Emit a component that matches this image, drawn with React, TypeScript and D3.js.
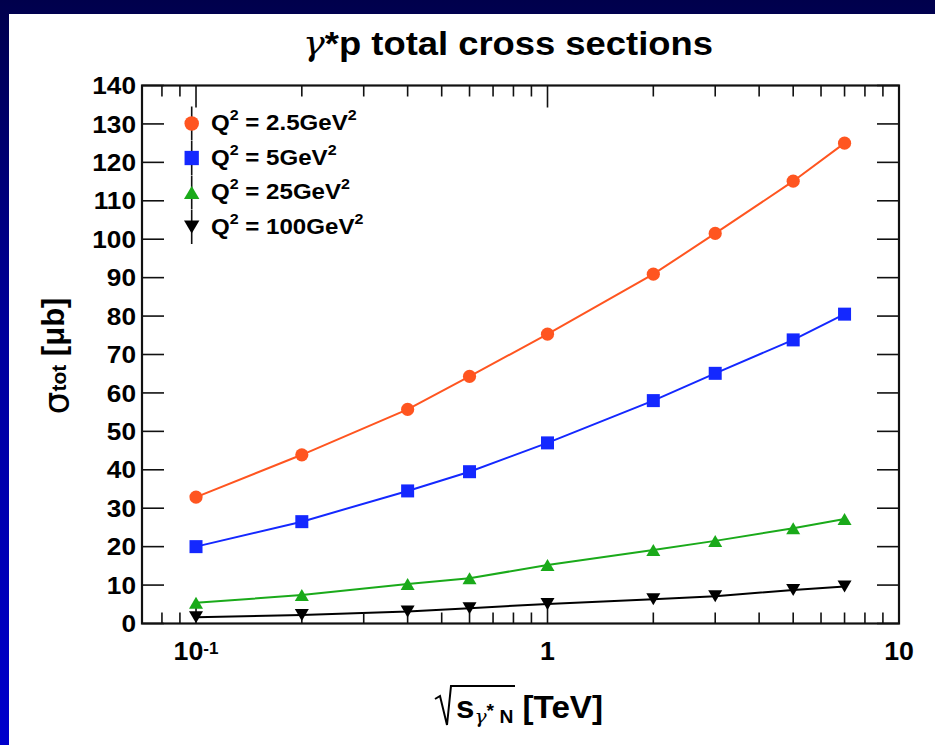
import React from "react";
import * as d3 from "d3";

// Centre-of-mass energies sqrt(s) [TeV]
const energies = [0.1, 0.2, 0.4, 0.6, 1, 2, 3, 5, 7];

// Total gamma*p cross sections [microbarn] for each photon virtuality
const sigmaQ2_2p5 = [32.9, 43.9, 55.7, 64.3, 75.3, 90.9, 101.5, 115.1, 125.0];
const sigmaQ2_5 = [20.0, 26.5, 34.5, 39.5, 47.0, 58.0, 65.1, 73.8, 80.5];
const sigmaQ2_25 = [5.4, 7.4, 10.3, 11.8, 15.2, 19.1, 21.5, 24.8, 27.2];
const sigmaQ2_100 = [1.6, 2.2, 3.1, 4.0, 5.1, 6.3, 7.1, 8.7, 9.6];

const legendQ2 = ["2.5", "5", "25", "100"];

// Axis ticks
const yTickValues = [0, 10, 20, 30, 40, 50, 60, 70, 80, 90, 100, 110, 120, 130, 140];
const yTickLabels = ["0", "10", "20", "30", "40", "50", "60", "70", "80", "90", "100", "110", "120", "130", "140"];
const xMajorValues = [0.1, 1, 10];
const xMajorBase = ["10", "1", "10"];
const xMajorExp = ["-1", "", ""];
const xMinorValues = [0.08, 0.09, 0.2, 0.3, 0.4, 0.5, 0.6, 0.7, 0.8, 0.9, 2, 3, 4, 5, 6, 7, 8, 9];

const FONT = "'Liberation Sans', Arial, Helvetica, sans-serif";
const GREEK = "'DejaVu Serif', 'Liberation Serif', serif";
const SX = 1.07;

type Series = { values: number[]; color: string; marker: string };
const series: Series[] = [
  { values: sigmaQ2_2p5, color: "#ff5520", marker: "circle" },
  { values: sigmaQ2_5, color: "#1428ff", marker: "square" },
  { values: sigmaQ2_25, color: "#1aaa1a", marker: "triangle" },
  { values: sigmaQ2_100, color: "#000000", marker: "invtriangle" },
];

function Marker({ kind, cx, cy, color, s = 1 }: { kind: string; cx: number; cy: number; color: string; s?: number }) {
  if (kind === "circle") return <circle cx={cx} cy={cy} r={6.6 * s} fill={color} />;
  if (kind === "square") {
    const h = 6.5 * s;
    return <rect x={cx - h} y={cy - h} width={2 * h} height={2 * h} fill={color} />;
  }
  const w = 7 * s;
  const h = 6 * s;
  if (kind === "triangle")
    return <path d={`M${cx - w},${cy + h}L${cx + w},${cy + h}L${cx},${cy - h}Z`} fill={color} />;
  return <path d={`M${cx - w},${cy - h}L${cx + w},${cy - h}L${cx},${cy + h}Z`} fill={color} />;
}

function Label({ x, y, size, anchor = "start", children }: any) {
  return (
    <g transform={`translate(${x},${y}) scale(${SX},1)`}>
      <text x={0} y={0} fontSize={size} fontFamily={FONT} fontWeight="bold" textAnchor={anchor} fill="#000">
        {children}
      </text>
    </g>
  );
}

export default function App() {
  const left = 142,
    right = 899,
    top = 85.5,
    bottom = 623.5;
  const x = d3.scaleLog().domain([0.0702, 10]).range([left, right]);
  const y = d3.scaleLinear().domain([0, 140]).range([bottom, top]);

  const line = d3
    .line<[number, number]>()
    .x((d) => x(d[0]))
    .y((d) => y(d[1]));

  const majorLen = 22;
  const minorLen = 11;
  const legendX = 191.7;
  const legendY0 = 123.5;
  const legendStep = 34.5;

  return (
    <svg width={935} height={745} style={{ position: "absolute", left: 0, top: 0 }}>
      <defs>
        <linearGradient id="bg" x1="0" y1="0" x2="0" y2="1">
          <stop offset="0" stopColor="#00004c" />
          <stop offset="0.45" stopColor="#00009c" />
          <stop offset="1" stopColor="#0000cc" />
        </linearGradient>
      </defs>
      <rect x={0} y={0} width={935} height={745} fill="url(#bg)" />
      <rect x={9} y={14} width={926} height={731} fill="#ffffff" />

      {/* Title */}
      <Label x={508} y={55} size={34} anchor="middle">
        <tspan fontFamily={GREEK} fontWeight="normal" fontStyle="italic">γ</tspan>*p total cross sections
      </Label>

      {/* Series lines */}
      {series.map((s, i) => (
        <path
          key={"l" + i}
          d={line(energies.map((e, k) => [e, s.values[k]] as [number, number])) || ""}
          fill="none"
          stroke={s.color}
          strokeWidth={2}
        />
      ))}

      {/* Ticks */}
      <g stroke="#111" strokeWidth={1.6}>
        {yTickValues.map((v) => (
          <g key={"yt" + v}>
            <line x1={left} x2={left + majorLen} y1={y(v)} y2={y(v)} />
            <line x1={right} x2={right - majorLen} y1={y(v)} y2={y(v)} />
          </g>
        ))}
        {xMajorValues.map((v) => (
          <g key={"xM" + v}>
            <line x1={x(v)} x2={x(v)} y1={bottom} y2={bottom - majorLen} />
            <line x1={x(v)} x2={x(v)} y1={top} y2={top + majorLen} />
          </g>
        ))}
        {xMinorValues.map((v) => (
          <g key={"xm" + v}>
            <line x1={x(v)} x2={x(v)} y1={bottom} y2={bottom - minorLen} />
            <line x1={x(v)} x2={x(v)} y1={top} y2={top + minorLen} />
          </g>
        ))}
      </g>

      {/* Markers */}
      {series.map((s, i) =>
        energies.map((e, k) => (
          <Marker key={"m" + i + "-" + k} kind={s.marker} cx={x(e)} cy={y(s.values[k])} color={s.color} />
        ))
      )}

      {/* Frame */}
      <rect x={left} y={top} width={right - left} height={bottom - top} fill="none" stroke="#111" strokeWidth={2.2} />

      {/* Y tick labels */}
      {yTickValues.map((v, i) => (
        <Label key={"yl" + v} x={136} y={y(v) + 8.7} size={24.5} anchor="end">
          {yTickLabels[i]}
        </Label>
      ))}

      {/* X tick labels */}
      {xMajorValues.map((v, i) => (
        <Label key={"xl" + v} x={x(v)} y={660} size={25} anchor="middle">
          {xMajorBase[i]}
          {xMajorExp[i] && (
            <tspan fontSize={16} dy={-6}>
              {xMajorExp[i]}
            </tspan>
          )}
        </Label>
      ))}

      {/* Axis titles */}
      <g transform="translate(63.5,356) rotate(-90)">
        <text fontFamily={FONT} fontWeight="bold" textAnchor="middle" fill="#000">
          <tspan fontSize={36} dy={5} fontFamily="'DejaVu Sans', sans-serif" fontWeight="normal">σ</tspan>
          <tspan fontSize={21} dy={-3}>tot</tspan>
          <tspan fontSize={31} dy={-2}> [μb]</tspan>
        </text>
      </g>
      <path d="M435,699 L440,696 L447,725 L451,686 L515,686" fill="none" stroke="#000" strokeWidth={2} />
      <Label x={456} y={718} size={31}>
        s
        <tspan fontSize={19} dy={5} fontFamily={GREEK} fontWeight="normal" fontStyle="italic">γ</tspan>
        <tspan fontSize={18} dy={-6}>*</tspan>
        <tspan fontSize={18} dy={6}> N</tspan>
        <tspan fontSize={31} dy={-5}> [TeV]</tspan>
      </Label>

      {/* Legend */}
      {series.map((s, i) => {
        const cy = legendY0 + i * legendStep;
        return (
          <g key={"lg" + i}>
            <line x1={legendX} x2={legendX} y1={cy - 17} y2={cy + 17} stroke="#111" strokeWidth={1.6} />
            <Marker kind={s.marker} cx={legendX} cy={cy} color={s.color} s={1.1} />
            <Label x={211} y={cy + 6.5} size={22.5}>
              Q<tspan fontSize={15} dy={-10}>2</tspan>
              <tspan dy={10}> = {legendQ2[i]}GeV</tspan>
              <tspan fontSize={15} dy={-10}>2</tspan>
            </Label>
          </g>
        );
      })}
    </svg>
  );
}
